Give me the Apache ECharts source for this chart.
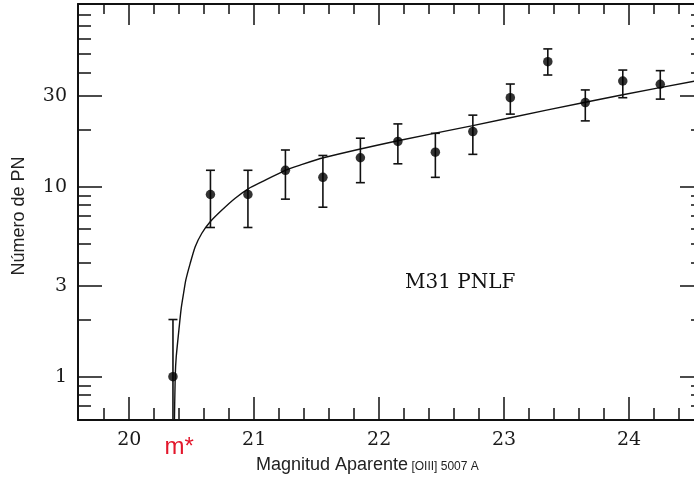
<!DOCTYPE html>
<html>
<head>
<meta charset="utf-8">
<script src="https://cdn.jsdelivr.net/npm/echarts@6/dist/echarts.min.js"></script>
<style>
html,body{margin:0;padding:0;background:#fff;overflow:hidden;}
#chart{width:694px;height:482px;}
</style>
</head>
<body>
<div id="chart"></div>
<script>
// ---- data ----
const binCenters = [20.35, 20.65, 20.95, 21.25, 21.55, 21.85, 22.15, 22.45, 22.75, 23.05, 23.35, 23.65, 23.95, 24.25];
const counts     = [1.0, 9.1, 9.1, 12.2, 11.2, 14.2, 17.3, 15.2, 19.5, 29.4, 45.5, 27.7, 36.0, 34.6];
const errHigh    = [2.0, 12.2, 12.2, 15.6, 14.6, 18.0, 21.4, 19.1, 23.8, 34.7, 53.1, 32.3, 41.1, 40.8];
const errLow     = [0.3, 6.1, 6.1, 8.6, 7.8, 10.5, 13.2, 11.2, 14.8, 24.1, 38.7, 22.2, 29.4, 28.9];

const fitMag = [20.36, 20.368, 20.376, 20.4, 20.416, 20.435, 20.453, 20.488, 20.528, 20.581, 20.648, 20.742, 20.848, 20.955, 21.06, 21.248, 21.368, 21.554, 22.14, 22.74, 23.34, 23.94, 24.54];
const fitN   = [0.5, 1.0, 1.27, 1.83, 2.29, 2.75, 3.23, 3.95, 4.83, 5.69, 6.54, 7.54, 8.7, 9.78, 10.6, 12.2, 13.0, 14.2, 17.4, 20.9, 25.3, 30.4, 36.1];

const xMajorTicks = [20, 21, 22, 23, 24];
const xMinorTicks = [19.8, 20.2, 20.4, 20.6, 20.8, 21.2, 21.4, 21.6, 21.8, 22.2, 22.4, 22.6, 22.8, 23.2, 23.4, 23.6, 23.8, 24.2, 24.4];
const mStarValue = [20.4];
const mStarLabel = 'm*';
const yMajorTicks = [1, 3, 10, 30];
const yMinorTicks = [0.7, 0.8, 0.9, 2, 4, 5, 6, 7, 8, 9, 20, 40, 50, 60, 70, 80];

const xTitle = 'Magnitud Aparente';
const xTitleSub = '[OIII] 5007 A';
const yTitle = 'Número de PN';
const annotation = 'M31 PNLF';

// ---- chart ----
const X_MIN = 19.59, X_MAX = 24.6, Y_MIN = 0.592, Y_MAX = 91.5;
const serif = 'DejaVu Serif';
const sans = 'Liberation Sans';
const lineCol = '#111';

function xAx(pos, ticks, len, showLine, labelOpt) {
  return {
    type: 'value', position: pos, min: X_MIN, max: X_MAX, gridIndex: 0,
    axisLine: { show: showLine, onZero: false, lineStyle: { color: lineCol, width: 2 } },
    axisTick: { show: true, inside: true, length: len, customValues: ticks, lineStyle: { color: lineCol, width: 1.5 } },
    axisLabel: labelOpt || { show: false },
    splitLine: { show: false }
  };
}
function yAx(pos, ticks, len, showLine, labelOpt, extra) {
  return Object.assign({
    type: 'log', logBase: 10, position: pos, min: Y_MIN, max: Y_MAX, gridIndex: 0,
    axisLine: { show: showLine, onZero: false, lineStyle: { color: lineCol, width: 2 } },
    axisTick: { show: true, inside: true, length: len, customValues: ticks, lineStyle: { color: lineCol, width: 1.5 } },
    axisLabel: labelOpt || { show: false },
    splitLine: { show: false }
  }, extra || {});
}

const errData = binCenters.map((m, i) => [m, errLow[i], errHigh[i]]);
const pointData = binCenters.map((m, i) => [m, counts[i]]);
const fitData = fitMag.map((m, i) => [m, fitN[i]]);

const option = {
  animation: false,
  backgroundColor: '#fff',
  grid: { left: 78, top: 4, width: 626, height: 416, containLabel: false, outerBoundsMode: 'none' },
  xAxis: [
    xAx('bottom', xMajorTicks, 23, true, { show: true, customValues: xMajorTicks, margin: 11, fontFamily: serif, fontSize: 19, color: '#1a1a1a' }),
    xAx('bottom', xMinorTicks, 12, false, { show: true, customValues: mStarValue, formatter: () => mStarLabel, margin: 15, fontFamily: sans, fontSize: 24, color: '#e3162b' }),
    xAx('top', xMajorTicks, 21, true),
    xAx('top', xMinorTicks, 10, false)
  ],
  yAxis: [
    yAx('left', yMajorTicks, 24, true, { show: true, customValues: yMajorTicks, margin: 11, fontFamily: serif, fontSize: 19, color: '#1a1a1a' },
      { name: yTitle, nameLocation: 'middle', nameGap: 50, nameRotate: 90, nameTextStyle: { fontFamily: sans, fontSize: 18, color: '#222', padding: [0, 8, 0, 0] } }),
    yAx('left', yMinorTicks, 13, false),
    yAx('right', yMajorTicks, 24, true),
    yAx('right', yMinorTicks, 13, false)
  ],
  graphic: [
    { type: 'text', left: 405, top: 273, style: { text: annotation, font: '20px "DejaVu Serif"', fill: '#111' } },
    { type: 'text', left: 256, top: 456, style: {
        text: '{a|' + xTitle + '} {b|' + xTitleSub + '}',
        rich: {
          a: { fontFamily: sans, fontSize: 18, fill: '#222', verticalAlign: 'bottom', lineHeight: 22 },
          b: { fontFamily: sans, fontSize: 12, fill: '#222', verticalAlign: 'bottom', lineHeight: 22, padding: [0, 0, 1, 0] }
        }
      } }
  ],
  series: [
    {
      type: 'line', data: fitData, xAxisIndex: 0, yAxisIndex: 0, showSymbol: false, symbol: 'none',
      smooth: 0.2, clip: true, lineStyle: { color: '#111', width: 1.4 }, z: 2
    },
    {
      type: 'custom', data: errData, xAxisIndex: 0, yAxisIndex: 0, clip: true, z: 3,
      renderItem: function (params, api) {
        const x = api.value(0);
        const lo = api.coord([x, api.value(1)]);
        const hi = api.coord([x, api.value(2)]);
        const hw = 4.5;
        const st = { stroke: '#111', lineWidth: 1.6 };
        return {
          type: 'group',
          children: [
            { type: 'line', shape: { x1: lo[0], y1: lo[1], x2: hi[0], y2: hi[1] }, style: st },
            { type: 'line', shape: { x1: hi[0] - hw, y1: hi[1], x2: hi[0] + hw, y2: hi[1] }, style: st },
            { type: 'line', shape: { x1: lo[0] - hw, y1: lo[1], x2: lo[0] + hw, y2: lo[1] }, style: st }
          ]
        };
      }
    },
    {
      type: 'scatter', data: pointData, xAxisIndex: 0, yAxisIndex: 0, symbol: 'circle', symbolSize: 9.5,
      itemStyle: { color: '#000' }, z: 4
    }
  ]
};

const chart = echarts.init(document.getElementById('chart'), null, { renderer: 'canvas' });
chart.setOption(option);
</script>
</body>
</html>
